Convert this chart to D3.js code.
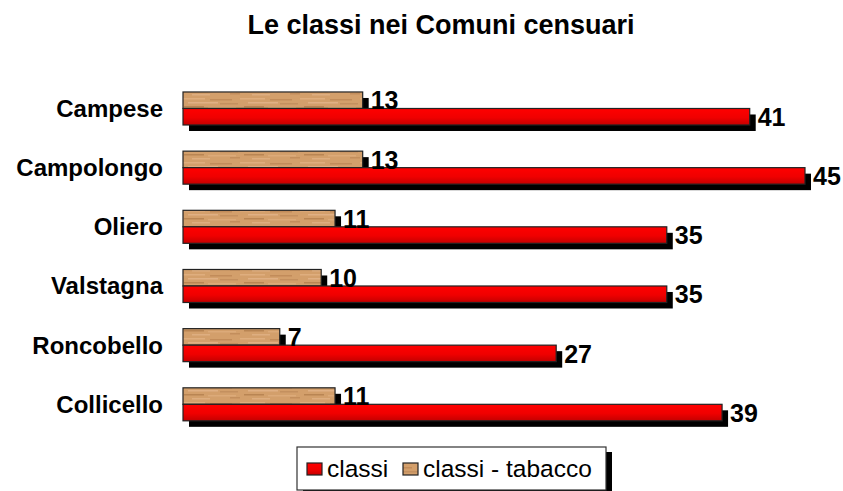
<!DOCTYPE html>
<html>
<head>
<meta charset="utf-8">
<script src="https://cdn.jsdelivr.net/npm/d3@7"></script>
<style>
  body { margin: 0; background: #fff; }
  text { font-family: "Liberation Sans", Arial, sans-serif; }
</style>
</head>
<body>
<div id="chart"></div>
<script>
// data
var comuni = ["Campese", "Campolongo", "Oliero", "Valstagna", "Roncobello", "Collicello"];
var classi = [41, 45, 35, 35, 27, 39];
var classiTabacco = [13, 13, 11, 10, 7, 11];
var seriesNames = ["classi", "classi - tabacco"];

var width = 843, height = 491;

var svg = d3.select("#chart")
    .append("svg")
    .attr("width", width)
    .attr("height", height);

var defs = svg.append("defs");

// red bar gradient
var grad = defs.append("linearGradient")
    .attr("id", "redGrad")
    .attr("x1", 0).attr("y1", 0).attr("x2", 0).attr("y2", 1);
grad.append("stop").attr("offset", "0%").attr("stop-color", "#ff0000");
grad.append("stop").attr("offset", "55%").attr("stop-color", "#f00000");
grad.append("stop").attr("offset", "100%").attr("stop-color", "#c40000");

// wood-ish texture for the tabacco bars
var pat = defs.append("pattern")
    .attr("id", "wood")
    .attr("patternUnits", "userSpaceOnUse")
    .attr("width", 60).attr("height", 16);
pat.append("rect").attr("width", 60).attr("height", 16).attr("fill", "#d39f6b");
var streaks = [[0, 2, 25, "#dfae7e"], [30, 3, 22, "#c28c5a"], [8, 6, 30, "#e0b084"], [40, 7, 18, "#c4905f"],
               [4, 10, 20, "#b98553"], [28, 11, 28, "#dcaa79"], [50, 13, 10, "#c38e5c"], [12, 14, 18, "#deae80"]];
streaks.forEach(function(s) {
  pat.append("rect").attr("x", s[0]).attr("y", s[1]).attr("width", s[2]).attr("height", 1.5).attr("fill", s[3]);
});

var x = d3.scaleLinear()
    .domain([0, 45])
    .range([183, 805]);

var y = d3.scaleBand()
    .domain(comuni)
    .range([78.9, 433.9])
    .paddingInner(0.442)
    .paddingOuter(0.221);

var barH = y.bandwidth() / 2;
var shX = 6, shY = 6;

// title
svg.append("text")
    .attr("x", 441)
    .attr("y", 34)
    .attr("text-anchor", "middle")
    .attr("font-size", "27px")
    .attr("font-weight", "bold")
    .text("Le classi nei Comuni censuari");

var rows = svg.selectAll("g.row")
    .data(comuni)
    .enter()
    .append("g")
    .attr("class", "row");

// shadows first
rows.append("rect")
    .attr("x", x(0) + shX)
    .attr("y", function(d) { return y(d) + barH + shY; })
    .attr("width", function(d, i) { return x(classi[i]) - x(0); })
    .attr("height", barH)
    .attr("fill", "#000");
rows.append("rect")
    .attr("x", x(0) + shX)
    .attr("y", function(d) { return y(d) + shY; })
    .attr("width", function(d, i) { return x(classiTabacco[i]) - x(0); })
    .attr("height", barH)
    .attr("fill", "#000");

// tabacco bars
rows.append("rect")
    .attr("x", x(0))
    .attr("y", function(d) { return y(d); })
    .attr("width", function(d, i) { return x(classiTabacco[i]) - x(0); })
    .attr("height", barH)
    .attr("fill", "url(#wood)")
    .attr("stroke", "#222")
    .attr("stroke-width", 1.2);

// classi bars
rows.append("rect")
    .attr("x", x(0))
    .attr("y", function(d) { return y(d) + barH; })
    .attr("width", function(d, i) { return x(classi[i]) - x(0); })
    .attr("height", barH)
    .attr("fill", "url(#redGrad)")
    .attr("stroke", "#222")
    .attr("stroke-width", 1.2);

// value labels
rows.append("text")
    .attr("x", function(d, i) { return x(classiTabacco[i]) + shX + 2; })
    .attr("y", function(d) { return y(d) + barH + 1; })
    .attr("font-size", "25px")
    .attr("font-weight", "bold")
    .text(function(d, i) { return classiTabacco[i]; });
rows.append("text")
    .attr("x", function(d, i) { return x(classi[i]) + shX + 2; })
    .attr("y", function(d) { return y(d) + 2 * barH + 1; })
    .attr("font-size", "25px")
    .attr("font-weight", "bold")
    .text(function(d, i) { return classi[i]; });

// category labels
rows.append("text")
    .attr("x", 163)
    .attr("y", function(d) { return y(d) + y.bandwidth() / 2 + 8.5; })
    .attr("text-anchor", "end")
    .attr("font-size", "24px")
    .attr("font-weight", "bold")
    .text(function(d) { return d; });

// legend
var legend = svg.append("g");
legend.append("rect")
    .attr("x", 297 + 6).attr("y", 447 + 5)
    .attr("width", 309).attr("height", 44)
    .attr("fill", "#000");
legend.append("rect")
    .attr("x", 297).attr("y", 447)
    .attr("width", 309).attr("height", 43)
    .attr("fill", "#fff")
    .attr("stroke", "#333")
    .attr("stroke-width", 1.2);

var legendItems = [
  { name: seriesNames[0], fill: "url(#redGrad)", x: 307 },
  { name: seriesNames[1], fill: "url(#wood)", x: 403 }
];
legend.selectAll("rect.sw")
    .data(legendItems)
    .enter()
    .append("rect")
    .attr("class", "sw")
    .attr("x", function(d) { return d.x; })
    .attr("y", 463)
    .attr("width", 15).attr("height", 12)
    .attr("fill", function(d) { return d.fill; })
    .attr("stroke", "#222")
    .attr("stroke-width", 1.2);
legend.selectAll("text")
    .data(legendItems)
    .enter()
    .append("text")
    .attr("x", function(d) { return d.x + 20; })
    .attr("y", 477)
    .attr("font-size", "24.5px")
    .text(function(d) { return d.name; });
</script>
</body>
</html>
